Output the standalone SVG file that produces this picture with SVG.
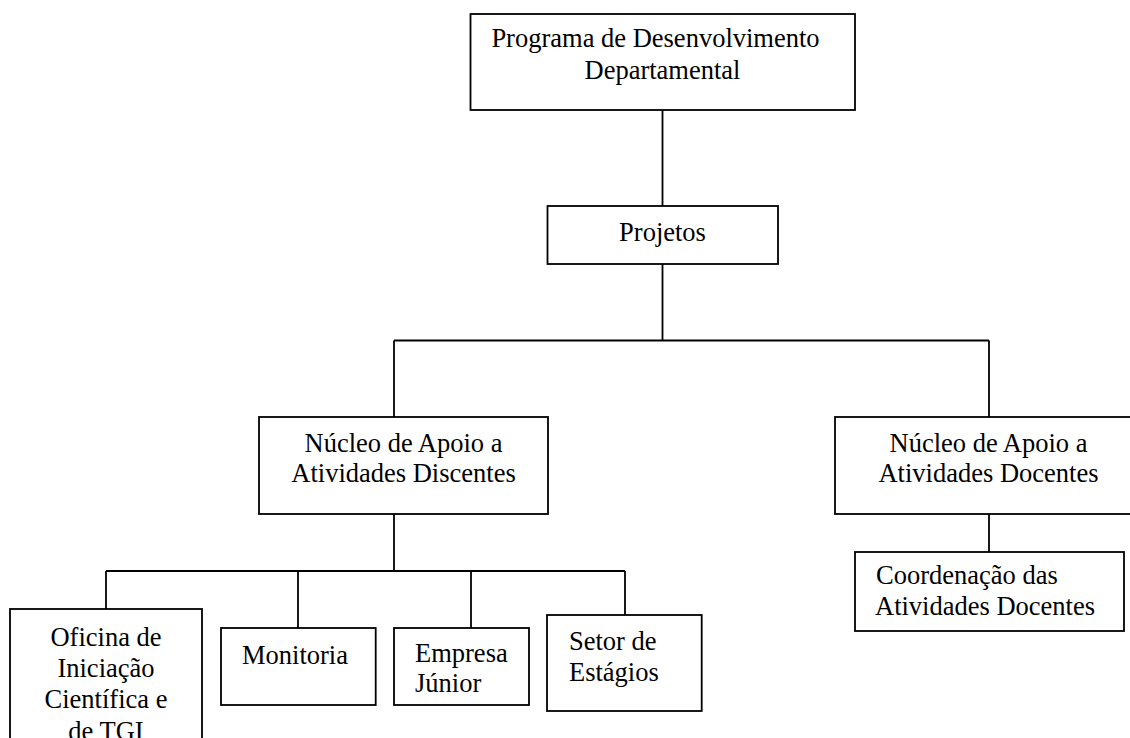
<svg xmlns="http://www.w3.org/2000/svg" width="1130" height="738" viewBox="0 0 1130 738">
<style>
.box{fill:#fff;stroke:#000;stroke-width:1.8}
.t{font-family:"Liberation Serif","Times New Roman",serif;font-size:26.5px;fill:#000}
.c{text-anchor:middle}
.conn line{stroke:#000;stroke-width:1.8;fill:none}
</style>
<rect width="1130" height="738" fill="#fff"/>
<g id="connectors" class="conn">
<line x1="662.5" y1="110" x2="662.5" y2="206"/>
<line x1="662.5" y1="264" x2="662.5" y2="340.5"/>
<line x1="394" y1="340.5" x2="989" y2="340.5"/>
<line x1="394" y1="340.5" x2="394" y2="417"/>
<line x1="989" y1="340.5" x2="989" y2="417"/>
<line x1="394" y1="514" x2="394" y2="571"/>
<line x1="106" y1="571" x2="625" y2="571"/>
<line x1="106" y1="571" x2="106" y2="609"/>
<line x1="298" y1="571" x2="298" y2="628"/>
<line x1="471" y1="571" x2="471" y2="628"/>
<line x1="625" y1="571" x2="625" y2="615"/>
<line x1="989" y1="514" x2="989" y2="552"/>
</g>
<g id="programa">
<rect class="box" x="470.5" y="14" width="384.5" height="96"/>
<text class="t c" x="655.5" y="47">Programa de Desenvolvimento</text>
<text class="t c" x="662.5" y="79">Departamental</text>
</g>
<g id="projetos">
<rect class="box" x="547.5" y="206" width="230.5" height="58"/>
<text class="t c" x="662.5" y="240.5">Projetos</text>
</g>
<g id="discentes">
<rect class="box" x="259" y="417" width="289" height="97"/>
<text class="t c" x="403.5" y="451.5">Núcleo de Apoio a</text>
<text class="t c" x="403.5" y="482">Atividades Discentes</text>
</g>
<g id="docentes">
<rect class="box" x="835" y="417" width="307" height="97"/>
<text class="t c" x="988.5" y="451.5">Núcleo de Apoio a</text>
<text class="t c" x="988.5" y="482">Atividades Docentes</text>
</g>
<g id="coordenacao">
<rect class="box" x="855" y="552" width="269" height="79"/>
<text class="t" x="876" y="584">Coordenação das</text>
<text class="t" x="875" y="615">Atividades Docentes</text>
</g>
<g id="oficina">
<rect class="box" x="10" y="609" width="192" height="160"/>
<text class="t c" x="106" y="646">Oficina de</text>
<text class="t c" x="106" y="677">Iniciação</text>
<text class="t c" x="106" y="708">Científica e</text>
<text class="t c" x="106" y="739.5">de TGI</text>
</g>
<g id="monitoria">
<rect class="box" x="221" y="628" width="154.7" height="77"/>
<text class="t" x="242" y="664">Monitoria</text>
</g>
<g id="empresa">
<rect class="box" x="394" y="628" width="135" height="77"/>
<text class="t" x="415" y="661.5">Empresa</text>
<text class="t" x="415" y="691.5">Júnior</text>
</g>
<g id="setor">
<rect class="box" x="547" y="615" width="154.7" height="96"/>
<text class="t" x="569" y="650">Setor de</text>
<text class="t" x="569" y="680.5">Estágios</text>
</g>
</svg>
